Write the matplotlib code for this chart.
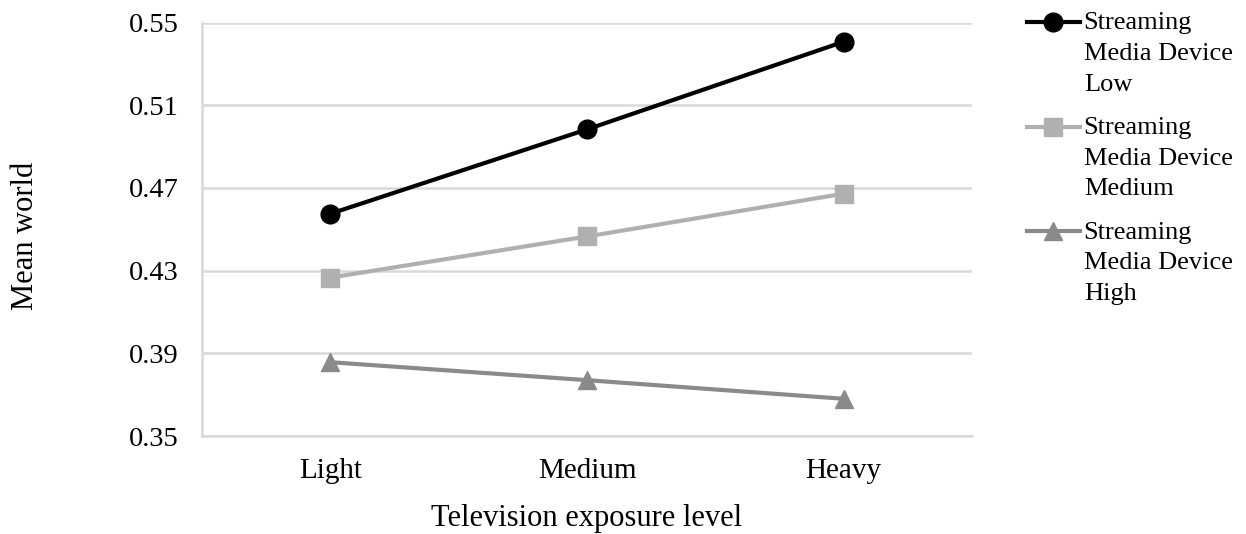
import matplotlib
matplotlib.use("Agg")
import matplotlib.pyplot as plt
from matplotlib.legend_handler import HandlerLine2D
from matplotlib.transforms import Affine2D

categories = ["Light", "Medium", "Heavy"]
low = [0.4575, 0.4983, 0.5407]
medium = [0.4266, 0.4465, 0.4672]
high = [0.3857, 0.3770, 0.3680]
series_labels = ["Streaming\nMedia Device\nLow",
                 "Streaming\nMedia Device\nMedium",
                 "Streaming\nMedia Device\nHigh"]
yticks = [0.35, 0.39, 0.43, 0.47, 0.51, 0.55]

plt.rcParams['font.family'] = ['Liberation Serif', 'DejaVu Serif']

LEG_FS = 19
LEG_LS = 1.52
LINE_PT = 22.5  # one legend text line, in points


class TopHandler(HandlerLine2D):
    def create_artists(self, legend, orig_handle, xdescent, ydescent,
                       width, height, fontsize, trans):
        shift = Affine2D().translate(0, LINE_PT)
        return super().create_artists(legend, orig_handle, xdescent, ydescent,
                                      width, height, fontsize, shift + trans)


fig = plt.figure(figsize=(12.46, 5.34), dpi=100)
ax = fig.add_axes([202/1246, 1-436/534, (972-202)/1246, (436-22.5)/534])

x = list(range(len(categories)))
l1, = ax.plot(x, low, color="#000000", lw=3, marker="o", ms=13.5, label=series_labels[0], zorder=4)
l2, = ax.plot(x, medium, color="#b0b0b0", lw=3, marker="s", ms=13, label=series_labels[1], zorder=3)
l3, = ax.plot(x, high, color="#8a8a8a", lw=3, marker="^", ms=13.5, label=series_labels[2], zorder=3)

ax.set_xlim(-0.5, 2.5)
ax.set_ylim(0.35, 0.55)
ax.set_yticks(yticks)
ax.set_yticklabels([f"{v:.2f}" for v in yticks], fontsize=20.5)
ax.set_xticks(x)
ax.set_xticklabels(categories, fontsize=21)
ax.grid(axis="y", color="#d9d9d9", lw=1.8, zorder=0)
ax.set_axisbelow(True)
for s in ["top", "right"]:
    ax.spines[s].set_visible(False)
for s in ["left", "bottom"]:
    ax.spines[s].set_color("#d9d9d9")
    ax.spines[s].set_linewidth(1.8)
ax.tick_params(length=0)
ax.tick_params(axis="x", pad=16)
ax.tick_params(axis="y", pad=17)

ax.set_ylabel("Mean world", fontsize=22, labelpad=64)
ax.yaxis.label.set_y(0.485)
ax.set_xlabel("Television exposure level", fontsize=22, labelpad=14)

leg = fig.legend(handles=[l1, l2, l3], loc="upper left",
                 bbox_to_anchor=(1027/1246, 1 - 12/534), frameon=False,
                 fontsize=LEG_FS, handlelength=2.0, handletextpad=0.15,
                 labelspacing=0.8, borderaxespad=0.0, borderpad=0.0,
                 handler_map={l1: TopHandler(), l2: TopHandler(), l3: TopHandler()})
for t in leg.get_texts():
    t.set_linespacing(LEG_LS)

fig.savefig("out.png", dpi=100)
